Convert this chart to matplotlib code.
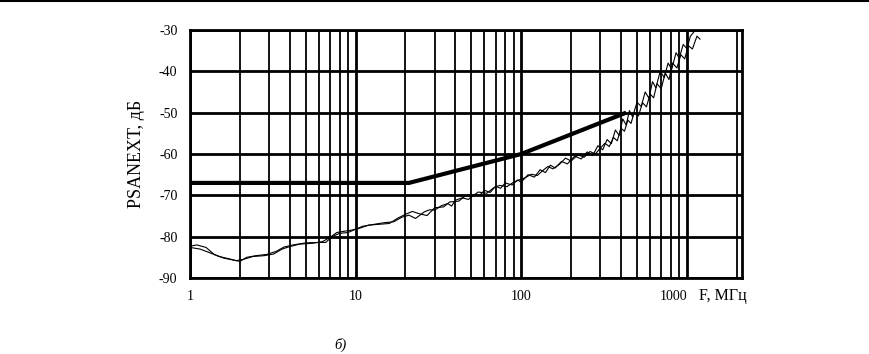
import matplotlib.pyplot as plt
import numpy as np
from matplotlib.lines import Line2D
from matplotlib.ticker import FixedLocator, NullFormatter

plt.rcParams['font.family'] = ['Liberation Serif', 'DejaVu Serif']

# limit line (thick)
limit_f = [1, 21, 100, 430]
limit_db = [-67, -67, -60, -50]

# measured curve 1
f1 = [1.0, 1.1, 1.25, 1.4, 1.6, 1.8, 2.0, 2.2, 2.5, 2.9, 3.3, 3.7, 4.2, 5.0, 6.0, 6.6,
      7.2, 8.0, 9.0, 10, 11, 13, 15, 17, 19, 21, 23, 26, 28, 30, 33, 36, 38, 40, 44,
      48, 52, 56, 60, 65, 70, 75, 80, 88, 95, 100, 110, 120, 130, 140, 150, 160, 175,
      190, 210, 230, 250, 270, 290, 310, 330, 350, 370, 390, 410, 430, 450, 470, 500,
      530, 560, 590, 620, 650, 690, 730, 770, 810, 860, 900, 950, 1000, 1050, 1100]
db1 = [-82.3, -82.0, -82.6, -84.3, -85.2, -85.6, -86.0, -85.0, -84.6, -84.3, -83.6, -82.5,
       -82.0, -81.5, -81.4, -81.4, -80.0, -79.2, -79.0, -78.2, -77.5, -77.0, -76.6, -76.4,
       -75.3, -74.8, -75.6, -74.0, -73.5, -73.6, -72.5, -72.0, -72.6, -71.2, -70.6, -71.0,
       -69.8, -70.0, -68.8, -69.3, -67.8, -68.3, -67.0, -67.5, -66.3, -66.8, -65.0, -65.6,
       -63.8, -64.5, -62.7, -63.4, -61.8, -62.4, -60.5, -61.2, -59.5, -60.4, -58.0, -59.0,
       -56.5, -57.5, -54.2, -55.5, -51.5, -53.0, -49.5, -51.0, -47.5, -48.5, -45.0, -46.5,
       -42.5, -44.0, -40.0, -41.5, -38.0, -39.5, -35.5, -36.8, -33.5, -34.5, -31.5, -30.5]

# measured curve 2
f2 = [1.0, 1.15, 1.3, 1.5, 1.7, 1.9, 2.1, 2.4, 2.8, 3.2, 3.6, 4.0, 4.6, 5.5, 6.3, 7.0,
      7.7, 8.5, 9.5, 10.5, 12, 14, 16, 18, 20, 22, 24, 27, 30, 34, 37, 42, 46, 50, 55,
      62, 68, 74, 82, 90, 98, 105, 115, 125, 135, 145, 155, 170, 185, 200, 220, 240, 260,
      280, 300, 320, 340, 360, 380, 400, 420, 440, 460, 480, 510, 540, 570, 600, 630,
      660, 700, 740, 780, 820, 870, 920, 970, 1020, 1080, 1150, 1200]
db2 = [-82.6, -83.0, -83.8, -84.8, -85.3, -85.8, -85.5, -84.8, -84.6, -84.2, -83.0, -82.4,
       -81.8, -81.6, -81.2, -80.2, -79.0, -78.7, -78.4, -78.0, -77.2, -77.0, -76.8, -75.5,
       -74.6, -73.9, -74.4, -74.9, -73.0, -72.8, -71.6, -71.4, -70.1, -70.4, -69.2, -69.5,
       -68.2, -67.6, -67.9, -66.8, -66.2, -65.8, -64.9, -65.2, -64.0, -63.0, -63.6, -62.5,
       -61.0, -61.7, -60.2, -60.8, -59.4, -60.0, -58.6, -57.4, -58.2, -56.0, -56.8, -53.8,
       -54.5, -51.8, -52.6, -50.0, -50.8, -47.6, -48.6, -45.5, -46.4, -43.0, -44.2, -40.4,
       -42.0, -38.0, -39.2, -36.0, -37.0, -33.8, -34.6, -31.5, -32.2]

y_ticks = [-90, -80, -70, -60, -50, -40, -30]
x_ticks = [1, 10, 100, 1000]

fig = plt.figure(figsize=(8.69, 3.54), dpi=100)
ax = fig.add_axes([0.2186, 0.2147, 0.6352, 0.7006])

ax.set_xscale('log')
ax.set_xlim(1, 2150)
ax.set_ylim(-90, -30)

# grid
ax.xaxis.set_major_locator(FixedLocator(x_ticks))
minors = [m * d for d in [1, 10, 100, 1000] for m in range(2, 10) if m * d < 2150]
ax.xaxis.set_minor_locator(FixedLocator(minors))
ax.xaxis.set_minor_formatter(NullFormatter())
ax.set_yticks(y_ticks)
ax.grid(True, which='major', color='black', linewidth=2.0)
ax.grid(True, which='minor', axis='x', color='black', linewidth=1.3)
ax.set_axisbelow(True)

ax.plot(f1, db1, color='black', linewidth=0.8)
ax.plot(f2, db2, color='black', linewidth=0.8)
ax.plot(limit_f, limit_db, color='black', linewidth=3.0, solid_capstyle='butt')

for s in ax.spines.values():
    s.set_linewidth(2.0)

ax.set_xticklabels([str(v) for v in x_ticks])
ax.set_yticklabels([str(v) for v in y_ticks])
ax.tick_params(which='both', length=0, labelsize=10)
ax.tick_params(axis='y', pad=9)
ax.tick_params(axis='x', pad=9)
ax.get_xticklabels()[-1].set_ha('right')

ax.set_ylabel('PSANEXT, дБ', fontsize=13, labelpad=10)
ax.text(0.922, -0.04, 'F, МГц', transform=ax.transAxes, fontsize=11.5,
        ha='left', va='top')

fig.text(340 / 869, 1 - 345 / 354, 'б)', fontsize=10.5, style='italic',
         ha='center', va='center')
fig.add_artist(Line2D([0, 1], [0.997, 0.997], color='black', linewidth=1.5,
                      transform=fig.transFigure))

fig.savefig('out.png', dpi=100)
